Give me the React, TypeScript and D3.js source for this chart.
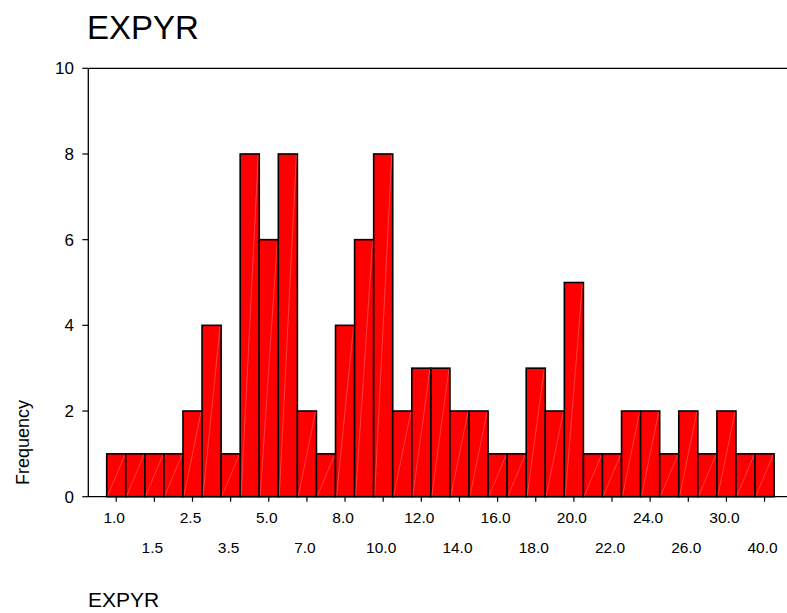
import React from "react";
import * as d3 from "d3";

const categories = [
  "1.0", "1.2", "1.5", "2.0", "2.5", "3.0", "3.5", "4.0", "5.0", "6.0",
  "7.0", "7.5", "8.0", "9.0", "10.0", "11.0", "12.0", "13.0", "14.0", "15.0",
  "16.0", "17.0", "18.0", "19.0", "20.0", "21.0", "22.0", "23.0", "24.0", "25.0",
  "26.0", "28.0", "30.0", "35.0", "40.0",
];
const frequencies = [
  1, 1, 1, 1, 2, 4, 1, 8, 6, 8,
  2, 1, 4, 6, 8, 2, 3, 3, 2, 2,
  1, 1, 3, 2, 5, 1, 1, 2, 2, 1,
  2, 1, 2, 1, 1,
];
const yTicks = [0, 2, 4, 6, 8, 10];
const title = "EXPYR";
const xTitle = "EXPYR";
const yTitle = "Frequency";

const W = 787;
const H = 613;
const axisX = 88.3;
const plotRight = 787;
const yTop = 68.3;
const yBottom = 496.7;
const barsLeft = 106.7;
const barsRight = 774.1;
const font = "'Liberation Sans', Arial, Helvetica, sans-serif";

export default function App() {
  const x = d3.scaleBand<string>().domain(categories).range([barsLeft, barsRight]).padding(0);
  const y = d3.scaleLinear().domain([0, 10]).range([yBottom, yTop]);
  const bw = x.bandwidth();

  return (
    <svg width={W} height={H} style={{ position: "absolute", left: 0, top: 0, background: "#fff" }}>
      <text x={87} y={39} fontFamily={font} fontSize={33} fill="#000">{title}</text>

      {categories.map((c, i) => {
        const x0 = x(c)!;
        const y0 = y(frequencies[i]);
        return (
          <g key={c}>
            <rect x={x0} y={y0} width={bw} height={yBottom - y0} fill="#ff0000" stroke="#000" strokeWidth={1.6} />
            <line x1={x0 + 1} y1={yBottom - 1} x2={x0 + bw - 1} y2={y0 + 1} stroke="#ffb0b0" strokeWidth={0.5} strokeOpacity={0.7} />
          </g>
        );
      })}

      <line x1={axisX} y1={yTop} x2={plotRight} y2={yTop} stroke="#000" strokeWidth={1.3} />
      <line x1={axisX} y1={yTop} x2={axisX} y2={yBottom} stroke="#000" strokeWidth={1.3} />
      <line x1={axisX} y1={yBottom} x2={plotRight} y2={yBottom} stroke="#000" strokeWidth={1.3} />

      {yTicks.map((t) => (
        <g key={t}>
          <line x1={axisX - 6} x2={axisX} y1={y(t)} y2={y(t)} stroke="#000" strokeWidth={1.2} />
          <text x={74} y={y(t)} dy="0.35em" textAnchor="end" fontFamily={font} fontSize={17} fill="#000">{t}</text>
        </g>
      ))}

      {categories.map((c, i) => {
        if (i % 2 !== 0) return null;
        const cx = x(c)! + bw / 2;
        const row = (i / 2) % 2;
        return (
          <g key={c}>
            <line x1={cx} x2={cx} y1={yBottom} y2={yBottom + 5} stroke="#000" strokeWidth={1.2} />
            <text x={cx - 2} y={row === 0 ? 522.7 : 552.7} textAnchor="middle" fontFamily={font} fontSize={15.5} fill="#000">{c}</text>
          </g>
        );
      })}

      <text x={88} y={607} fontFamily={font} fontSize={21} fill="#000">{xTitle}</text>
      <text transform={`translate(29, ${(yTop + yBottom) / 2 + 160}) rotate(-90)`} textAnchor="middle" fontFamily={font} fontSize={18} fill="#000">{yTitle}</text>
    </svg>
  );
}
